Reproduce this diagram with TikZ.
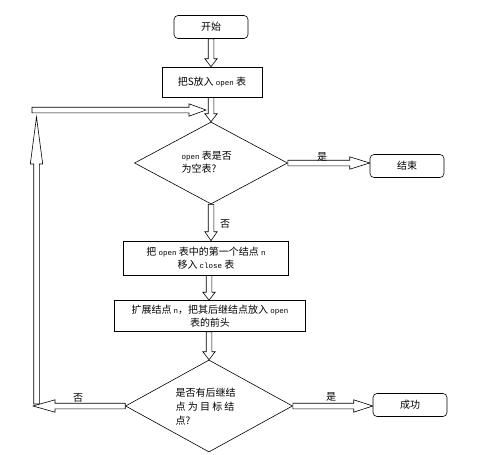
\documentclass[tikz,border=0pt]{standalone}
\usepackage{fontspec}
\setmainfont{Noto Sans CJK SC}
\setmonofont{Liberation Mono}
\usetikzlibrary{arrows.meta,shapes.geometric,calc}
\newcommand\mono[1]{{\fontsize{7.5}{9}\selectfont\ttfamily #1}}
% block (hollow) arrow from #2 to #3, head length #1
\newcommand\blkarrow[3][8pt]{%
  \draw[blockline] let \p1=(#2), \p2=(#3),
     \n1={atan2(\y2-\y1,\x2-\x1)}, \n2={veclen(\x2-\x1,\y2-\y1)}, \n3={\n2-#1}
   in [shift={(\p1)}, rotate=\n1]
     (0pt,-2.8pt) -- (\n3,-2.8pt) -- (\n3,-6.2pt) -- (\n2,0pt)
     -- (\n3,6.2pt) -- (\n3,2.8pt) -- (0pt,2.8pt) -- cycle;}
\tikzset{
  every node/.style={font=\fontsize{10}{13}\selectfont},
  term/.style={draw, rounded corners=4pt, minimum width=74pt, minimum height=23pt, line width=0.6pt},
  proc/.style={draw, line width=0.6pt, align=center, inner sep=1pt},
  deci/.style={draw, diamond, line width=0.6pt, inner sep=0pt},
  blockline/.style={draw, line width=0.6pt, line join=miter},
  lab/.style={font=\fontsize{10}{12}\selectfont}
}
\begin{document}
\begin{tikzpicture}[x=1pt,y=-1pt]
\useasboundingbox (0,0) rectangle (499,455);
\node[term] (start) at (211,27) {开始};
\node[proc, minimum width=100pt, minimum height=30pt] (put) at (212,82) {把S放入 \mono{open} 表};
\node[deci, minimum width=153pt, minimum height=82pt] (empty) at (211,163) {};
\node[align=left, anchor=north west, font=\fontsize{10}{13}\selectfont] (emptyt) at (178,148) {\mono{open} 表是否\\为空表?};
\node[term] (end) at (407,166) {结束};
\node[proc, minimum width=165pt, minimum height=34pt] (move) at (206,258) {把 \mono{open} 表中的第一个结点 \mono{n}\\移入 \mono{close} 表};
\node[proc, minimum width=191pt, minimum height=31pt] (expand) at (210,316) {扩展结点 \mono{n}，把其后继结点放入 \mono{open}\\表的前头};
\node[deci, minimum width=167pt, minimum height=92pt] (goal) at (209,406) {};
\node[align=left, anchor=north west, font=\fontsize{10}{14}\selectfont] (goalt) at (172,385) {是否有后继结\\点 为 目 标 结\\点?};
\node[term] (succ) at (410,405) {成功};

\coordinate (lb) at (36.5,404);
\coordinate (lt) at (36.5,117);
\coordinate (hl) at (32,110);
\coordinate (hr) at (206,110);
\coordinate (nl) at (33,406);

\blkarrow{start.south}{put.north -| start.south}
\blkarrow{put.south -| empty.north}{empty.north}
\blkarrow[20pt]{empty.east}{end.west |- empty.east}
\blkarrow[9pt]{empty.south}{move.north -| empty.south}
\blkarrow{move.south -| goal.north}{expand.north -| goal.north}
\blkarrow{expand.south -| goal.north}{goal.north}
\blkarrow[19pt]{goal.east}{succ.west |- goal.east}
\blkarrow[22pt]{goal.west}{nl}
\blkarrow[47pt]{lb}{lt}
\blkarrow[17pt]{hl}{hr}

\node[lab] (y1) at (322,157) {是};
\node[lab] (n1) at (225,224) {否};
\node[lab] (y2) at (331,397) {是};
\node[lab] (n2) at (78,398) {否};
\end{tikzpicture}
\end{document}
